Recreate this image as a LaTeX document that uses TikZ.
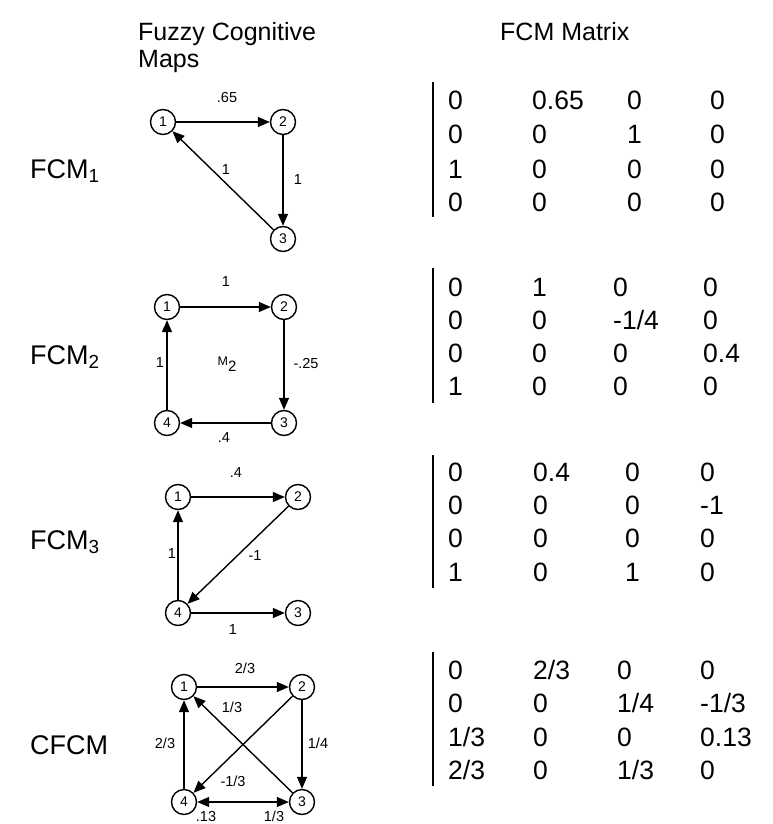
\documentclass[tikz,border=0pt]{standalone}
\usepackage{fontspec}
\setmainfont{Liberation Sans}
\usetikzlibrary{arrows.meta}
\begin{document}
\begin{tikzpicture}[x=1pt,y=-1pt,
  cn/.style={circle,draw,line width=1.4pt,minimum size=25pt,inner sep=0pt,font=\fontsize{14}{14}\selectfont},
  ed/.style={line width=1.4pt,-{Triangle[length=12pt,width=10pt]}},
  edd/.style={line width=1.4pt,{Triangle[length=12pt,width=10pt]}-{Triangle[length=12pt,width=10pt]}},
  el/.style={font=\fontsize{14.5}{14.5}\selectfont,inner sep=0pt},
  hd/.style={font=\fontsize{25}{28}\selectfont,anchor=base west,inner sep=0pt},
  lb/.style={font=\fontsize{27}{30}\selectfont,anchor=base west,inner sep=0pt},
  mx/.style={font=\fontsize{26.5}{30}\selectfont,anchor=base west,inner sep=0pt},
  bar/.style={line width=2.2pt}]
\useasboundingbox (0,0) rectangle (773,824);

% headers
\node[hd] (h1) at (138,41) {Fuzzy Cognitive};
\node[hd] (h2) at (138,68) {Maps};
\node[hd] (h3) at (500,41) {FCM Matrix};

% left labels
\node[lb] (l1) at (30,178) {FCM\textsubscript{1}};
\node[lb] (l2) at (30,364) {FCM\textsubscript{2}};
\node[lb] (l3) at (30,549) {FCM\textsubscript{3}};
\node[lb] (l4) at (30,754) {CFCM};

% ---------- graph 1
\node[cn] (a1) at (163,122) {1};
\node[cn] (a2) at (283,122) {2};
\node[cn] (a3) at (283,239) {3};
\draw[ed] (a1) -- (a2);
\draw[ed] (a2) -- (a3);
\draw[ed] (a3) -- (a1);
\node[el] (a12) at (227,98) {.65};
\node[el] (a23) at (298,180) {1};
\node[el] (a31) at (226,170) {1};

% ---------- graph 2
\node[cn] (b1) at (167,307) {1};
\node[cn] (b2) at (284,307) {2};
\node[cn] (b3) at (284,423) {3};
\node[cn] (b4) at (167,423) {4};
\draw[ed] (b1) -- (b2);
\draw[ed] (b2) -- (b3);
\draw[ed] (b3) -- (b4);
\draw[ed] (b4) -- (b1);
\node[el] (b12) at (226,282) {1};
\node[el] (b23) at (306,364) {-.25};
\node[el] (b34) at (224,438) {.4};
\node[el] (b41) at (160,363) {1};
\node[el] (bm) at (227,364) {{\fontsize{12.5}{12.5}\selectfont M}\raisebox{-6pt}{\fontsize{15}{15}\selectfont 2}};

% ---------- graph 3
\node[cn] (c1) at (178,497) {1};
\node[cn] (c2) at (298,497) {2};
\node[cn] (c3) at (298,613) {3};
\node[cn] (c4) at (178,613) {4};
\draw[ed] (c1) -- (c2);
\draw[ed] (c2) -- (c4);
\draw[ed] (c4) -- (c1);
\draw[ed] (c4) -- (c3);
\node[el] (c12) at (236,473) {.4};
\node[el] (c24) at (255,556) {-1};
\node[el] (c41) at (172,554) {1};
\node[el] (c43) at (233,630) {1};

% ---------- graph 4
\node[cn] (d1) at (184,687) {1};
\node[cn] (d2) at (302,687) {2};
\node[cn] (d3) at (302,802) {3};
\node[cn] (d4) at (184,802) {4};
\draw[ed] (d1) -- (d2);
\draw[ed] (d2) -- (d3);
\draw[ed] (d4) -- (d1);
\draw[ed] (d3) -- (d1);
\draw[ed] (d2) -- (d4);
\draw[edd] (d4) -- (d3);
\node[el] (d12) at (245,668) {2/3};
\node[el] (d31) at (232,707) {1/3};
\node[el] (d41) at (165,743) {2/3};
\node[el] (d23) at (318,743) {1/4};
\node[el] (d24) at (233,781) {-1/3};
\node[el] (d34) at (206,816.5) {.13};
\node[el] (d43) at (274,816.5) {1/3};

% ---------- matrix 1
\draw[bar] (433,82) -- (433,217);
\node[mx] (m1a) at (448,109.5) {0};
\node[mx] (m1b) at (532,109.5) {0.65};
\node[mx] (m1c) at (627,109.5) {0};
\node[mx] (m1d) at (710,109.5) {0};
\node[mx] (m1e) at (448,143.5) {0};
\node[mx] (m1f) at (532,143.5) {0};
\node[mx] (m1g) at (627,143.5) {1};
\node[mx] (m1h) at (710,143.5) {0};
\node[mx] (m1i) at (448,178) {1};
\node[mx] (m1j) at (532,178) {0};
\node[mx] (m1k) at (627,178) {0};
\node[mx] (m1l) at (710,178) {0};
\node[mx] (m1m) at (448,211) {0};
\node[mx] (m1n) at (532,211) {0};
\node[mx] (m1o) at (627,211) {0};
\node[mx] (m1p) at (710,211) {0};

% ---------- matrix 2
\draw[bar] (433,268) -- (433,403);
\node[mx] (m2a) at (448,296.5) {0};
\node[mx] (m2b) at (532,296.5) {1};
\node[mx] (m2c) at (613,296.5) {0};
\node[mx] (m2d) at (703,296.5) {0};
\node[mx] (m2e) at (448,329.5) {0};
\node[mx] (m2f) at (532,329.5) {0};
\node[mx] (m2g) at (613,329.5) {-1/4};
\node[mx] (m2h) at (703,329.5) {0};
\node[mx] (m2i) at (448,362.5) {0};
\node[mx] (m2j) at (532,362.5) {0};
\node[mx] (m2k) at (613,362.5) {0};
\node[mx] (m2l) at (703,362.5) {0.4};
\node[mx] (m2m) at (448,395.5) {1};
\node[mx] (m2n) at (532,395.5) {0};
\node[mx] (m2o) at (613,395.5) {0};
\node[mx] (m2p) at (703,395.5) {0};

% ---------- matrix 3
\draw[bar] (433,455) -- (433,588);
\node[mx] (m3a) at (448,481.5) {0};
\node[mx] (m3b) at (533,481.5) {0.4};
\node[mx] (m3c) at (625,481.5) {0};
\node[mx] (m3d) at (700,481.5) {0};
\node[mx] (m3e) at (448,514.5) {0};
\node[mx] (m3f) at (533,514.5) {0};
\node[mx] (m3g) at (625,514.5) {0};
\node[mx] (m3h) at (700,514.5) {-1};
\node[mx] (m3i) at (448,547.5) {0};
\node[mx] (m3j) at (533,547.5) {0};
\node[mx] (m3k) at (625,547.5) {0};
\node[mx] (m3l) at (700,547.5) {0};
\node[mx] (m3m) at (448,581) {1};
\node[mx] (m3n) at (533,581) {0};
\node[mx] (m3o) at (625,581) {1};
\node[mx] (m3p) at (700,581) {0};

% ---------- matrix 4
\draw[bar] (433,652) -- (433,786);
\node[mx] (m4a) at (448,679.5) {0};
\node[mx] (m4b) at (533,679.5) {2/3};
\node[mx] (m4c) at (617,679.5) {0};
\node[mx] (m4d) at (700,679.5) {0};
\node[mx] (m4e) at (448,712.5) {0};
\node[mx] (m4f) at (533,712.5) {0};
\node[mx] (m4g) at (617,712.5) {1/4};
\node[mx] (m4h) at (700,712.5) {-1/3};
\node[mx] (m4i) at (448,746) {1/3};
\node[mx] (m4j) at (533,746) {0};
\node[mx] (m4k) at (617,746) {0};
\node[mx] (m4l) at (700,746) {0.13};
\node[mx] (m4m) at (448,779) {2/3};
\node[mx] (m4n) at (533,779) {0};
\node[mx] (m4o) at (617,779) {1/3};
\node[mx] (m4p) at (700,779) {0};
\end{tikzpicture}
\end{document}
